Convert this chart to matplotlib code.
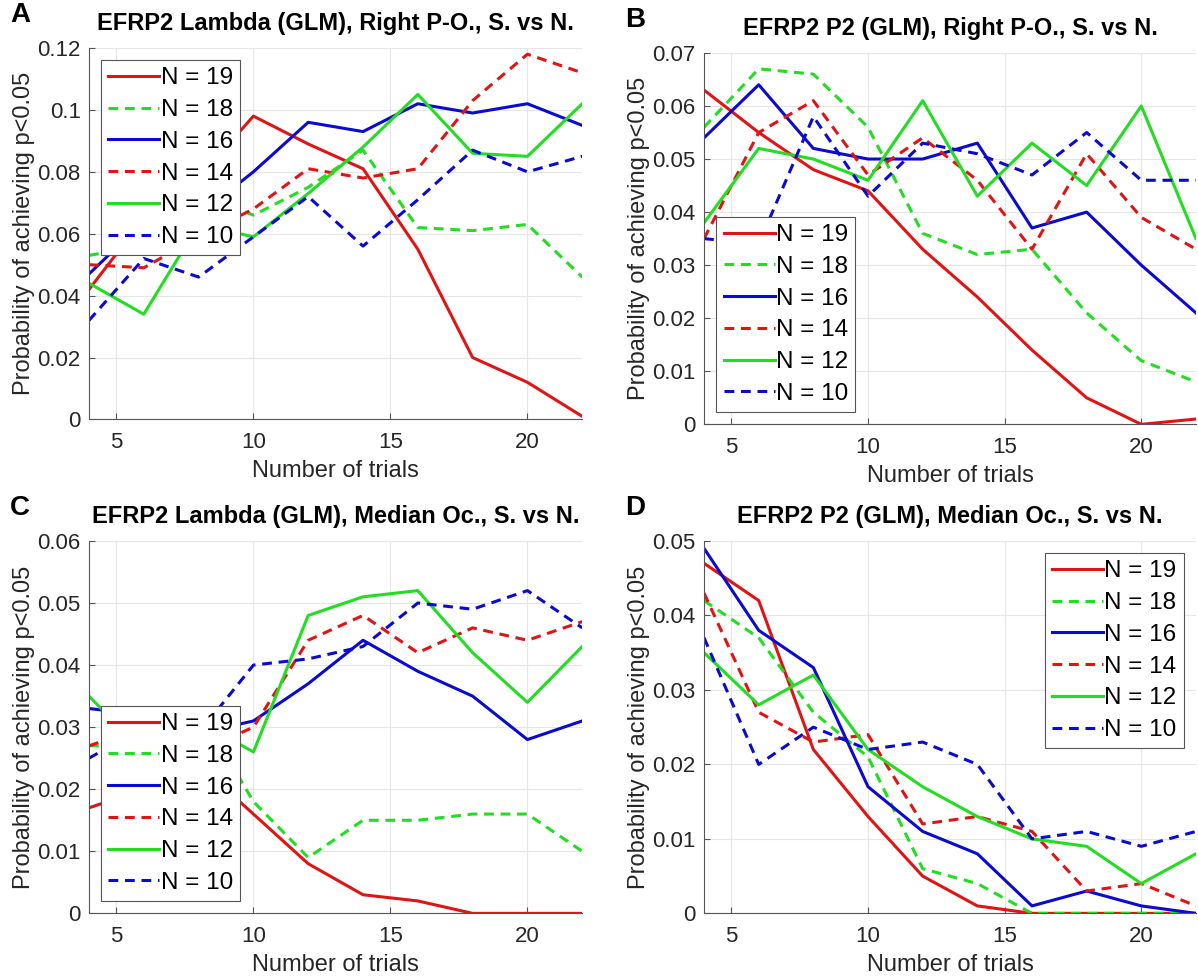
import matplotlib
matplotlib.use('Agg')
import matplotlib.pyplot as plt
from matplotlib.ticker import FuncFormatter

# data ------------------------------------------------------------------------
trials = [4, 6, 8, 10, 12, 14, 16, 18, 20, 22]
labels = ['N = 19', 'N = 18', 'N = 16', 'N = 14', 'N = 12', 'N = 10']

# A: EFRP2 Lambda, Right P-O.
a_n19 = [0.042, 0.065, 0.078, 0.098, 0.089, 0.081, 0.055, 0.020, 0.012, 0.001]
a_n18 = [0.053, 0.056, 0.073, 0.066, 0.075, 0.087, 0.062, 0.061, 0.063, 0.046]
a_n16 = [0.047, 0.064, 0.066, 0.080, 0.096, 0.093, 0.102, 0.099, 0.102, 0.095]
a_n14 = [0.050, 0.049, 0.059, 0.068, 0.081, 0.078, 0.081, 0.103, 0.118, 0.112]
a_n12 = [0.044, 0.034, 0.063, 0.059, 0.073, 0.088, 0.105, 0.086, 0.085, 0.102]
a_n10 = [0.032, 0.052, 0.046, 0.059, 0.072, 0.056, 0.071, 0.087, 0.080, 0.085]

# B: EFRP2 P2, Right P-O.
b_n19 = [0.063, 0.055, 0.048, 0.044, 0.033, 0.024, 0.014, 0.005, 0.000, 0.001]
b_n18 = [0.056, 0.067, 0.066, 0.056, 0.036, 0.032, 0.033, 0.021, 0.012, 0.008]
b_n16 = [0.054, 0.064, 0.052, 0.050, 0.050, 0.053, 0.037, 0.040, 0.030, 0.021]
b_n14 = [0.035, 0.055, 0.061, 0.047, 0.054, 0.046, 0.033, 0.051, 0.039, 0.033]
b_n12 = [0.038, 0.052, 0.050, 0.046, 0.061, 0.043, 0.053, 0.045, 0.060, 0.035]
b_n10 = [0.035, 0.034, 0.058, 0.043, 0.053, 0.051, 0.047, 0.055, 0.046, 0.046]

# C: EFRP2 Lambda, Median Oc.
c_n19 = [0.017, 0.020, 0.024, 0.016, 0.008, 0.003, 0.002, 0.000, 0.000, 0.000]
c_n18 = [0.027, 0.027, 0.033, 0.018, 0.009, 0.015, 0.015, 0.016, 0.016, 0.010]
c_n16 = [0.033, 0.032, 0.029, 0.031, 0.037, 0.044, 0.039, 0.035, 0.028, 0.031]
c_n14 = [0.027, 0.030, 0.026, 0.030, 0.044, 0.048, 0.042, 0.046, 0.044, 0.047]
c_n12 = [0.035, 0.026, 0.031, 0.026, 0.048, 0.051, 0.052, 0.042, 0.034, 0.043]
c_n10 = [0.025, 0.030, 0.029, 0.040, 0.041, 0.043, 0.050, 0.049, 0.052, 0.046]

# D: EFRP2 P2, Median Oc.
d_n19 = [0.047, 0.042, 0.022, 0.013, 0.005, 0.001, 0.000, 0.000, 0.000, 0.000]
d_n18 = [0.042, 0.037, 0.027, 0.021, 0.006, 0.004, 0.000, 0.000, 0.000, 0.000]
d_n16 = [0.049, 0.038, 0.033, 0.017, 0.011, 0.008, 0.001, 0.003, 0.001, 0.000]
d_n14 = [0.043, 0.027, 0.023, 0.024, 0.012, 0.013, 0.011, 0.003, 0.004, 0.001]
d_n12 = [0.035, 0.028, 0.032, 0.022, 0.017, 0.013, 0.010, 0.009, 0.004, 0.008]
d_n10 = [0.037, 0.020, 0.025, 0.022, 0.023, 0.020, 0.010, 0.011, 0.009, 0.011]

RED, GREEN, BLUE = '#e01414', '#22dd22', '#0a0ad0'
styles = [(RED, '-'), (GREEN, '--'), (BLUE, '-'), (RED, '--'), (GREEN, '-'), (BLUE, '--')]

panels = [
    ('A', 'EFRP2 Lambda (GLM), Right P-O., S. vs N.',
     [a_n19, a_n18, a_n16, a_n14, a_n12, a_n10], 0.12, 0.02, 'upper left',
     [0.0743, 0.572, 0.4117, 0.379]),
    ('B', 'EFRP2 P2 (GLM), Right P-O., S. vs N.',
     [b_n19, b_n18, b_n16, b_n14, b_n12, b_n10], 0.07, 0.01, 'lower left',
     [0.5877, 0.567, 0.4106, 0.379]),
    ('C', 'EFRP2 Lambda (GLM), Median Oc., S. vs N.',
     [c_n19, c_n18, c_n16, c_n14, c_n12, c_n10], 0.06, 0.01, 'lower left',
     [0.0743, 0.068, 0.4117, 0.380]),
    ('D', 'EFRP2 P2 (GLM), Median Oc., S. vs N.',
     [d_n19, d_n18, d_n16, d_n14, d_n12, d_n10], 0.05, 0.01, 'upper right',
     [0.5877, 0.068, 0.4106, 0.380]),
]

plt.rcParams['font.family'] = ['Liberation Sans', 'DejaVu Sans']

fig = plt.figure(figsize=(11.98, 9.8), dpi=100)
fmt = FuncFormatter(lambda v, p: '%g' % round(v, 4))

for letter, title, series, ymax, ystep, loc, rect in panels:
    ax = fig.add_axes(rect)
    for vals, (col, ls), lab in zip(series, styles, labels):
        line, = ax.plot(trials, vals, color=col, linestyle=ls, lw=2.2, label=lab)
        if ls == '--':
            line.set_dashes((3.2, 2.2))
    ax.set_xlim(4, 22)
    ax.set_ylim(0, ymax)
    ax.set_xticks([5, 10, 15, 20])
    n = int(round(ymax / ystep))
    ax.set_yticks([i * ystep for i in range(n + 1)])
    ax.yaxis.set_major_formatter(fmt)
    ax.grid(True, color='#e6e6e6', lw=0.8)
    ax.set_axisbelow(True)
    for s in ['top', 'right']:
        ax.spines[s].set_visible(False)
    for s in ['left', 'bottom']:
        ax.spines[s].set_color('#555555')
    ax.tick_params(direction='in', length=4, labelsize=16, colors='#555555',
                   labelcolor='#262626')
    ax.tick_params(axis='x', pad=9)
    ax.tick_params(axis='y', pad=6)
    ax.set_xlabel('Number of trials', fontsize=17, color='#262626', labelpad=5)
    ax.set_ylabel('Probability of achieving p<0.05', fontsize=17, color='#262626',
                  labelpad=2)
    ax.set_title(title, fontsize=17, fontweight='bold', pad=13)
    leg = ax.legend(loc=loc, fontsize=17.5, handlelength=2.1, handletextpad=0.05,
                    borderpad=0.3, labelspacing=0.4, fancybox=False,
                    framealpha=1, borderaxespad=0.5)
    leg.get_frame().set_edgecolor('#555555')
    leg.get_frame().set_linewidth(0.8)
    bb = ax.get_position()
    fig.text(bb.x0 - 0.066, bb.y1 + 0.034, letter, fontsize=20,
             fontweight='bold', ha='left', va='center')

fig.savefig('out.png', dpi=100)
